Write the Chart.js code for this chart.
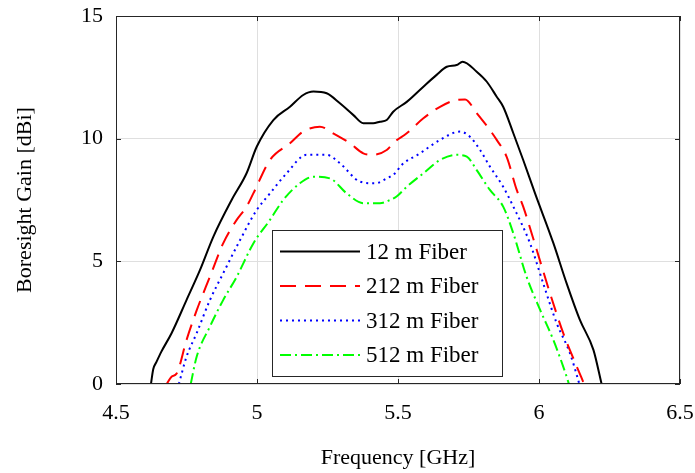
<!DOCTYPE html>
<html>
<head>
<meta charset="utf-8">
<script src="https://cdn.jsdelivr.net/npm/chart.js@4"></script>
<style>
  html, body { margin: 0; padding: 0; background: #fff; }
  #wrap { width: 695px; height: 473px; }
</style>
</head>
<body>
<div id="wrap"><canvas id="gainChart" width="695" height="473"></canvas></div>
<script>
// Boresight gain vs frequency, four fiber lengths
const seriesLabels = ['12 m Fiber', '212 m Fiber', '312 m Fiber', '512 m Fiber'];
const xTicks = [4.5, 5, 5.5, 6, 6.5];
const yTicks = [0, 5, 10, 15];

const freq12 = [4.624, 4.632, 4.644, 4.66, 4.697, 4.75, 4.798, 4.845, 4.91, 4.963, 4.999, 5.058, 5.117, 5.164, 5.2, 5.247, 5.294, 5.341, 5.377, 5.412, 5.436, 5.46, 5.483, 5.531, 5.59, 5.637, 5.673, 5.708, 5.729, 5.779, 5.815, 5.85, 5.873, 5.909, 5.944, 5.986, 6.051, 6.098, 6.145, 6.193, 6.222];
const gain12 = [0, 0.6, 0.91, 1.3, 2.07, 3.42, 4.65, 6.0, 7.5, 8.59, 9.67, 10.76, 11.3, 11.78, 11.92, 11.85, 11.44, 10.97, 10.63, 10.63, 10.69, 10.76, 11.1, 11.5, 12.12, 12.6, 12.93, 13.0, 13.14, 12.73, 12.32, 11.71, 11.3, 10.22, 9.13, 7.77, 5.74, 4.1, 2.61, 1.39, 0];

const freq212 = [4.68, 4.697, 4.715, 4.75, 4.786, 4.833, 4.88, 4.928, 4.963, 4.987, 5.046, 5.117, 5.164, 5.223, 5.27, 5.33, 5.377, 5.412, 5.46, 5.489, 5.531, 5.59, 5.649, 5.708, 5.738, 5.779, 5.826, 5.85, 5.885, 5.921, 5.944, 5.992, 6.039, 6.086, 6.134, 6.16];
const gain212 = [0, 0.3, 0.43, 1.79, 3.0, 4.37, 5.73, 6.69, 7.23, 7.77, 9.13, 9.81, 10.29, 10.49, 10.22, 9.81, 9.4, 9.34, 9.54, 9.88, 10.22, 10.83, 11.3, 11.58, 11.6, 11.04, 10.35, 9.95, 9.27, 7.91, 7.23, 5.46, 3.7, 2.07, 0.71, 0];

const freq312 = [4.723, 4.75, 4.786, 4.833, 4.88, 4.94, 4.999, 5.046, 5.105, 5.176, 5.247, 5.294, 5.365, 5.418, 5.46, 5.495, 5.507, 5.578, 5.649, 5.72, 5.755, 5.791, 5.826, 5.873, 5.909, 5.968, 6.015, 6.063, 6.11, 6.139, 6.143];
const gain312 = [0, 1.11, 2.07, 3.42, 4.51, 5.87, 7.09, 7.77, 8.59, 9.34, 9.34, 9.0, 8.25, 8.18, 8.38, 8.65, 8.86, 9.4, 9.95, 10.29, 10.08, 9.54, 8.86, 8.04, 7.23, 5.74, 4.1, 2.47, 1.25, 0.16, 0];

const freq512 = [4.765, 4.786, 4.833, 4.88, 4.928, 4.987, 5.046, 5.093, 5.152, 5.2, 5.259, 5.318, 5.377, 5.436, 5.472, 5.495, 5.531, 5.59, 5.649, 5.708, 5.744, 5.779, 5.826, 5.873, 5.909, 5.956, 6.004, 6.051, 6.098, 6.106];
const gain512 = [0, 1.11, 2.34, 3.42, 4.37, 5.73, 6.69, 7.5, 8.18, 8.45, 8.38, 7.77, 7.37, 7.37, 7.5, 7.64, 8.04, 8.59, 9.13, 9.34, 9.27, 8.72, 7.91, 7.23, 6.14, 4.37, 3.02, 1.79, 0.3, 0];

const serif = "'Liberation Serif', 'Times New Roman', serif";

function toPoints(xs, ys) {
    return xs.map((x, i) => ({ x: x, y: ys[i] }));
}

function makeSet(label, xs, ys, color, dash) {
    return {
        label: label,
        data: toPoints(xs, ys),
        borderColor: color,
        backgroundColor: color,
        borderWidth: 2,
        borderDash: dash,
        pointRadius: 0,
        cubicInterpolationMode: 'monotone',
        fill: false
    };
}

// box, inward ticks and the inset legend, MATLAB style
const framePlugin = {
    id: 'frame',
    afterDatasetsDraw(chart) {
        const ctx = chart.ctx;
        const a = chart.chartArea;
        const xs = chart.scales.x, ys = chart.scales.y;
        ctx.save();
        ctx.strokeStyle = '#262626';
        ctx.lineWidth = 1;
        ctx.strokeRect(a.left + 0.5, a.top + 0.5, a.right - a.left - 1, a.bottom - a.top - 1);
        ctx.beginPath();
        xTicks.forEach(v => {
            const px = Math.round(xs.getPixelForValue(v)) + 0.5;
            ctx.moveTo(px, a.bottom); ctx.lineTo(px, a.bottom - 5);
            ctx.moveTo(px, a.top); ctx.lineTo(px, a.top + 5);
        });
        yTicks.forEach(v => {
            const py = Math.round(ys.getPixelForValue(v)) + 0.5;
            ctx.moveTo(a.left, py); ctx.lineTo(a.left + 5, py);
            ctx.moveTo(a.right, py); ctx.lineTo(a.right - 5, py);
        });
        ctx.stroke();

        // legend box
        const bx = 272, by = 230, bw = 230, bh = 146;
        ctx.fillStyle = '#fff';
        ctx.fillRect(bx, by, bw, bh);
        ctx.strokeStyle = '#262626';
        ctx.strokeRect(bx + 0.5, by + 0.5, bw, bh);
        const rows = [251.5, 286, 320.5, 355];
        ctx.font = '23px ' + serif;
        ctx.textBaseline = 'middle';
        chart.data.datasets.forEach((ds, i) => {
            ctx.strokeStyle = ds.borderColor;
            ctx.lineWidth = 2;
            ctx.setLineDash(ds.borderDash || []);
            ctx.beginPath();
            ctx.moveTo(280, rows[i]); ctx.lineTo(360, rows[i]);
            ctx.stroke();
            ctx.setLineDash([]);
            ctx.fillStyle = '#000';
            ctx.fillText(ds.label, 366, rows[i] + 1);
        });
        ctx.restore();
    }
};

new Chart(document.getElementById('gainChart'), {
    type: 'line',
    data: {
        datasets: [
            makeSet(seriesLabels[0], freq12, gain12, '#000000', []),
            makeSet(seriesLabels[1], freq212, gain212, '#ff0000', [16, 9]),
            makeSet(seriesLabels[2], freq312, gain312, '#0000ff', [2, 4]),
            makeSet(seriesLabels[3], freq512, gain512, '#00ff00', [11, 4, 2, 4])
        ]
    },
    options: {
        responsive: false,
        animation: false,
        layout: { padding: { left: 0, right: 15, top: 16, bottom: 0 } },
        plugins: {
            legend: { display: false },
            tooltip: { enabled: false }
        },
        scales: {
            x: {
                type: 'linear',
                min: 4.5,
                max: 6.5,
                afterBuildTicks: s => { s.ticks = xTicks.map(v => ({ value: v })); },
                afterFit: s => { s.height = 89; s.paddingLeft = 0; s.paddingRight = 0; },
                ticks: {
                    color: '#000',
                    font: { family: serif, size: 22 },
                    padding: 16,
                    maxRotation: 0,
                    callback: v => String(v)
                },
                grid: { color: '#dfdfdf', drawTicks: false },
                border: { display: false },
                title: {
                    display: true,
                    text: 'Frequency [GHz]',
                    color: '#000',
                    font: { family: serif, size: 22 },
                    padding: { top: 0, bottom: 2 }
                }
            },
            y: {
                min: 0,
                max: 15,
                afterBuildTicks: s => { s.ticks = yTicks.map(v => ({ value: v })); },
                afterFit: s => { s.width = 116; s.paddingTop = 0; s.paddingBottom = 0; },
                ticks: {
                    color: '#000',
                    font: { family: serif, size: 22 },
                    padding: 13
                },
                grid: { color: '#dfdfdf', drawTicks: false },
                border: { display: false },
                title: {
                    display: true,
                    text: 'Boresight Gain [dBi]',
                    color: '#000',
                    font: { family: serif, size: 22 },
                    padding: { top: 12, bottom: 0 }
                }
            }
        }
    },
    plugins: [framePlugin]
});
</script>
</body>
</html>
